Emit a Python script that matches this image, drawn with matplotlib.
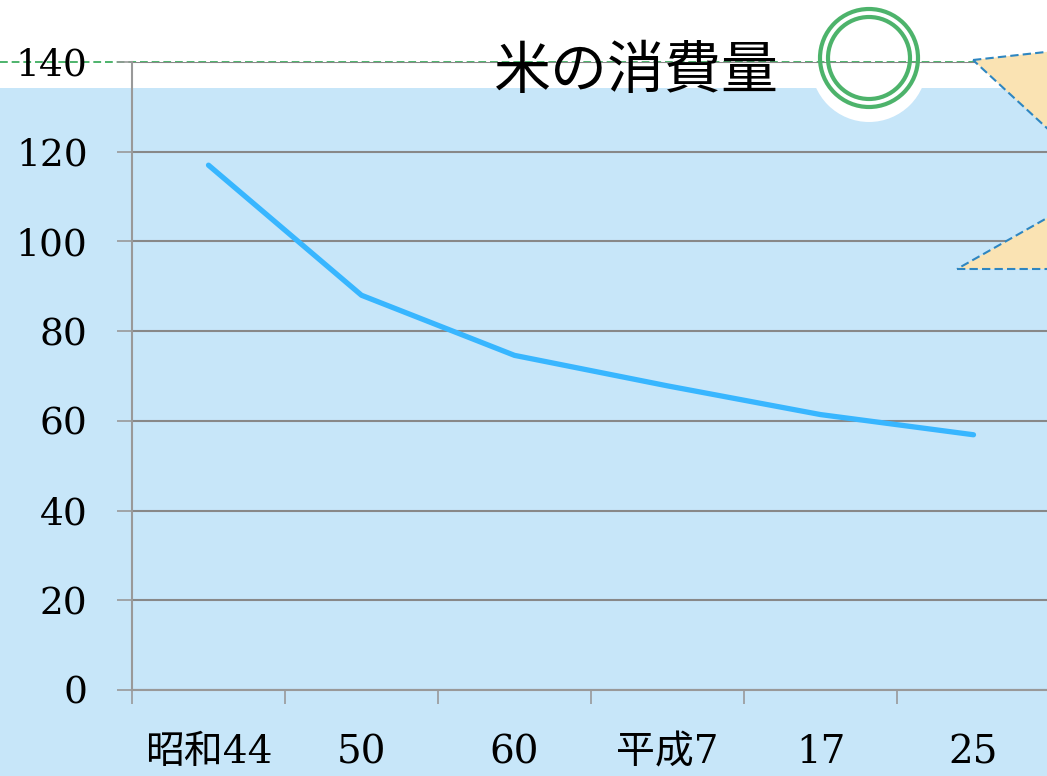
import matplotlib
matplotlib.use("Agg")
import matplotlib.pyplot as plt
from matplotlib.patches import Rectangle, Ellipse, Polygon
from matplotlib.lines import Line2D
import numpy as np

categories = ["昭和44", "50", "60", "平成7", "17", "25"]
values = [117, 88, 74.6, 67.8, 61.4, 56.9]
yticks = [0, 20, 40, 60, 80, 100, 120, 140]
title = "米の消費量"

W, H = 1047, 776
fig = plt.figure(figsize=(W / 100, H / 100), dpi=100)
fig.patch.set_facecolor("white")

def fx(x):
    return x / W

def fy(y):
    return 1 - y / H

blue_bg = "#C7E6F9"
# light blue background
fig.add_artist(Rectangle((0, 0), 1, fy(88), transform=fig.transFigure,
                         facecolor=blue_bg, edgecolor="none", zorder=0))
# white circle cut-out
fig.add_artist(Ellipse((fx(869), fy(64)), 2 * 58 / W, 2 * 58 / H,
                       transform=fig.transFigure, facecolor="white",
                       edgecolor="none", zorder=0.5))
# green dashed line
fig.add_artist(Line2D([0, fx(975)], [fy(62), fy(62)], transform=fig.transFigure,
                      color="#4DB36B", lw=1.4, ls=(0, (4, 2)), zorder=1))

ax = fig.add_axes([fx(132), fy(690), (1050 - 132) / W, (690 - 62) / H])
ax.set_zorder(2)
ax.patch.set_visible(False)

x = np.arange(len(categories))
ax.plot(x, values, color="#38B6FF", lw=3.8, solid_capstyle="round", zorder=3)

ax.set_xlim(-0.5, len(categories) - 0.5)
ax.set_ylim(0, 140)
ax.set_yticks(yticks)
ax.set_yticklabels([str(v) for v in yticks])
ax.grid(axis="y", color="#888888", lw=1.5)
ax.set_axisbelow(True)

ax.set_xticks(x)
ax.set_xticklabels(categories)
ax.set_xticks(np.arange(len(categories) + 1) - 0.5, minor=True)
ax.tick_params(axis="x", which="major", length=0, pad=32)
ax.tick_params(axis="x", which="minor", length=10, width=1.2, color="#999999", direction="out")
ax.tick_params(axis="y", length=11, width=1.2, color="#999999", direction="out", pad=21)

lab_font = ["DejaVu Serif", "Noto Sans CJK JP"]
for t in ax.get_xticklabels():
    t.set_family(lab_font)
    t.set_fontsize(28)
for t in ax.get_yticklabels():
    t.set_family(lab_font)
    t.set_fontsize(27)

for s in ["top", "right"]:
    ax.spines[s].set_visible(False)
for s in ["left", "bottom"]:
    ax.spines[s].set_color("#999999")
    ax.spines[s].set_linewidth(1.5)

# title
fig.text(fx(636), fy(72), title, ha="center", va="center", fontsize=41,
         family=["Noto Sans CJK JP", "DejaVu Sans"], color="black", zorder=5)

# double circle
for r in (49, 41):
    fig.add_artist(Ellipse((fx(869), fy(58)), 2 * r / W, 2 * r / H,
                           transform=fig.transFigure, facecolor="none",
                           edgecolor="#4DB36B", lw=3, zorder=5))

# peach shapes at right
peach = "#FAE3B3"
edge = "#2E86C1"
upper = [(973, 60), (1100, 46), (1100, 177)]
lower = [(957, 269), (1100, 269), (1100, 188)]
for pts in (upper, lower):
    fig.add_artist(Polygon([(fx(a), fy(b)) for a, b in pts], closed=True,
                           transform=fig.transFigure, facecolor=peach,
                           edgecolor=edge, lw=1.5, ls=(0, (4, 2)), zorder=4))

fig.savefig("out.png", dpi=100)
